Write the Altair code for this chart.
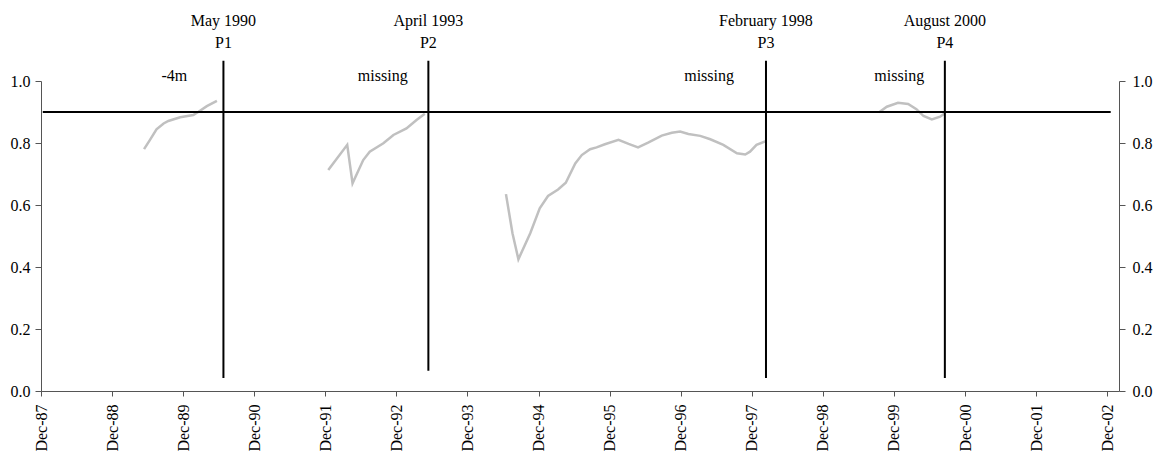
import altair as alt
import pandas as pd

FONT = "Liberation Serif"

# x is measured in months after December 1987
tick_months = [0, 12, 24, 36, 48, 60, 72, 84, 96, 108, 120, 132, 144, 156, 168, 180]
tick_labels = ["Dec-87", "Dec-88", "Dec-89", "Dec-90", "Dec-91", "Dec-92", "Dec-93", "Dec-94",
               "Dec-95", "Dec-96", "Dec-97", "Dec-98", "Dec-99", "Dec-00", "Dec-01", "Dec-02"]
y_ticks = [0.0, 0.2, 0.4, 0.6, 0.8, 1.0]

seg1_m = [17.4, 18.4, 19.5, 20.7, 21.5, 23.5, 25.7, 26.6, 28.0, 29.7]
seg1_v = [0.780, 0.810, 0.844, 0.863, 0.871, 0.883, 0.890, 0.901, 0.919, 0.936]

seg2_m = [48.5, 51.7, 52.6, 54.4, 55.5, 57.8, 59.5, 61.7, 63.4, 64.8]
seg2_v = [0.713, 0.794, 0.670, 0.745, 0.772, 0.799, 0.826, 0.847, 0.874, 0.894]

seg3_m = [78.5, 79.6, 80.6, 82.6, 84.2, 85.6, 87.3, 88.6, 90.2, 91.3, 92.7, 93.8, 95.2, 97.5,
          99.2, 100.8, 102.5, 104.8, 106.5, 107.9, 109.3, 111.3, 113.0, 115.2, 117.5, 118.9,
          119.7, 120.8, 122.5]
seg3_v = [0.635, 0.509, 0.425, 0.509, 0.589, 0.629, 0.650, 0.672, 0.734, 0.761, 0.780, 0.786,
          0.796, 0.810, 0.797, 0.786, 0.801, 0.824, 0.833, 0.837, 0.829, 0.823, 0.812, 0.794,
          0.767, 0.763, 0.772, 0.794, 0.807]

seg4_m = [141.5, 142.8, 144.7, 146.4, 147.8, 149.0, 150.4, 151.8, 152.6]
seg4_v = [0.899, 0.917, 0.930, 0.926, 0.909, 0.887, 0.876, 0.885, 0.896]

target_level = 0.9
target_start = 0.3
target_end = 180.6

event_month = [30.8, 65.4, 122.4, 152.6]
event_date = ["May 1990", "April 1993", "February 1998", "August 2000"]
event_name = ["P1", "P2", "P3", "P4"]
event_top = [1.065, 1.065, 1.065, 1.065]
event_bottom = [0.042, 0.065, 0.042, 0.042]

note_month = [22.5, 57.7, 112.8, 144.9]
note_text = ["-4m", "missing", "missing", "missing"]

date_level = 1.194
name_level = 1.123
note_level = 1.016

rows = []
for name, ms, vs in [("s1", seg1_m, seg1_v), ("s2", seg2_m, seg2_v),
                     ("s3", seg3_m, seg3_v), ("s4", seg4_m, seg4_v)]:
    for m, v in zip(ms, vs):
        rows.append({"seg": name, "m": m, "v": v})
series = pd.DataFrame(rows)

target_df = pd.DataFrame({"x1": [target_start], "x2": [target_end], "y": [target_level]})
events = pd.DataFrame({"m": event_month, "top": event_top, "bottom": event_bottom,
                       "date": event_date, "name": event_name,
                       "dl": [date_level] * 4, "nl": [name_level] * 4})
notes = pd.DataFrame({"m": note_month, "t": note_text, "l": [note_level] * 4})

xs = alt.Scale(domain=[0, 182], nice=False, zero=False)
ys = alt.Scale(domain=[0, 1], nice=False, zero=True)

label_expr = "[" + ",".join("'%s'" % t for t in tick_labels) + "][round(datum.value / 12)]"

x_axis = alt.Axis(values=tick_months, labelExpr=label_expr, labelAngle=270, labelFont=FONT,
                  labelFontSize=16, labelColor="black", tickSize=5, tickColor="#555555",
                  domainColor="#555555", labelPadding=8, grid=False, title=None,
                  labelFlush=False, labelOverlap=False)

def X(field):
    return alt.X(field, scale=xs, axis=x_axis)

def y_axis(orient, pad):
    return alt.Axis(values=y_ticks, format=".1f", orient=orient, labelFont=FONT,
                    labelFontSize=16, labelColor="black", tickSize=6, tickColor="#555555",
                    domainColor="#555555", labelPadding=pad, grid=False, title=None,
                    labelFlush=False)

line = alt.Chart(series).mark_line(color="#c0c0c0", strokeWidth=2.5).encode(
    x=X("m:Q"),
    y=alt.Y("v:Q", scale=ys, axis=y_axis("left", 5)),
    detail="seg:N",
)

target = alt.Chart(target_df).mark_rule(color="black", strokeWidth=2).encode(
    x=X("x1:Q"),
    x2="x2:Q",
    y=alt.Y("y:Q", scale=ys, axis=y_axis("right", 7)),
)

vlines = alt.Chart(events).mark_rule(color="black", strokeWidth=2).encode(
    x=X("m:Q"),
    y=alt.Y("bottom:Q", scale=ys, axis=None),
    y2="top:Q",
)

txt = dict(font=FONT, fontSize=16, color="black", align="center", baseline="middle")

date_text = alt.Chart(events).mark_text(**txt).encode(
    x=X("m:Q"),
    y=alt.Y("dl:Q", scale=ys, axis=None),
    text="date:N",
)
name_text = alt.Chart(events).mark_text(**txt).encode(
    x=X("m:Q"),
    y=alt.Y("nl:Q", scale=ys, axis=None),
    text="name:N",
)
note_t = alt.Chart(notes).mark_text(**txt).encode(
    x=X("m:Q"),
    y=alt.Y("l:Q", scale=ys, axis=None),
    text="t:N",
)

chart = alt.layer(line, target, vlines, date_text, name_text, note_t).resolve_scale(
    y="independent"
).properties(
    width=1078, height=310,
    autosize=alt.AutoSizeParams(type="none"),
    padding={"left": 33, "top": 73, "right": 34, "bottom": 62},
    background="white",
).configure_view(stroke=None)

chart.save("out.html", embed_options={"renderer": "svg", "actions": False})
